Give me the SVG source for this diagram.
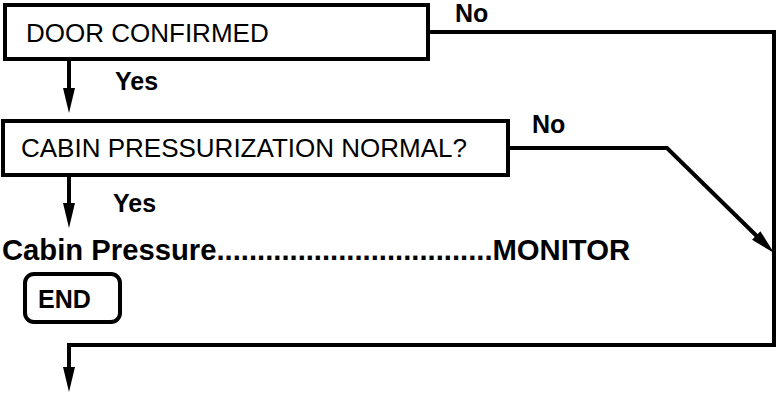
<svg xmlns="http://www.w3.org/2000/svg" width="778" height="393" viewBox="0 0 778 393">
<style>
.box{fill:#fff;stroke:#000;stroke-width:4}
.ln{fill:none;stroke:#000;stroke-width:4;stroke-linejoin:miter}
.t{font-family:"Liberation Sans",Arial,sans-serif;font-size:26px;fill:#000}
.b{font-family:"Liberation Sans",Arial,sans-serif;font-weight:bold;font-size:25px;fill:#000}
.big{font-family:"Liberation Sans",Arial,sans-serif;font-weight:bold;font-size:30px;fill:#000}
</style>
<defs>
<marker id="ah" markerUnits="userSpaceOnUse" viewBox="0 0 25 12" markerWidth="25" markerHeight="12" refX="15" refY="6" orient="auto">
<path d="M0,0 L25,6 L0,12 z" fill="#000"/>
</marker>
</defs>
<rect width="778" height="393" fill="#fff"/>
<g id="connectors">
<path class="ln" d="M69,59 V103" marker-end="url(#ah)"/>
<path class="ln" d="M69,175 V218" marker-end="url(#ah)"/>
<path class="ln" d="M428,32 H774 V345 H69 V382" marker-end="url(#ah)"/>
<path class="ln" d="M508,148 H667 L766.9,246" marker-end="url(#ah)"/>
<text class="b" x="115" y="90">Yes</text>
<text class="b" x="113" y="212">Yes</text>
<text class="b" x="455" y="22">No</text>
<text class="b" x="532" y="133">No</text>
</g>
<g id="door-confirmed">
<rect class="box" x="5" y="5" width="423" height="54"/>
<text class="t" x="26" y="42">DOOR CONFIRMED</text>
</g>
<g id="cabin-pressurization">
<rect class="box" x="3" y="121" width="505" height="54"/>
<text class="t" x="21" y="157">CABIN PRESSURIZATION NORMAL?</text>
</g>
<g id="cabin-pressure-monitor">
<text class="big" x="2" y="260" textLength="628" lengthAdjust="spacingAndGlyphs">Cabin Pressure..................................MONITOR</text>
</g>
<g id="end">
<rect class="box" x="25" y="274" width="95" height="48" rx="9" ry="9"/>
<text class="b" x="38" y="308">END</text>
</g>
</svg>
